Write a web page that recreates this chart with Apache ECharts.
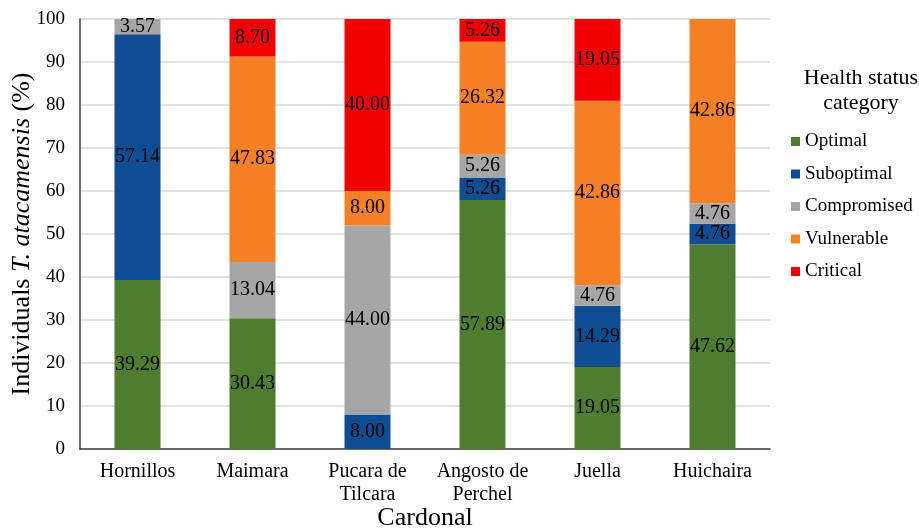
<!DOCTYPE html>
<html><head><meta charset="utf-8">
<script src="https://cdn.jsdelivr.net/npm/echarts@6/dist/echarts.min.js"></script>
<style>html,body{margin:0;padding:0;background:#fff}#c{width:919px;height:532px}</style>
</head><body><div id="c"></div>
<script>
const categories = ['Hornillos', 'Maimara', 'Pucara de\nTilcara', 'Angosto de\nPerchel', 'Juella', 'Huichaira'];
const seriesNames = ['Optimal', 'Suboptimal', 'Compromised', 'Vulnerable', 'Critical'];
const optimal = [39.29, 30.43, null, 57.89, 19.05, 47.62];
const suboptimal = [57.14, null, 8.00, 5.26, 14.29, 4.76];
const compromised = [3.57, 13.04, 44.00, 5.26, 4.76, 4.76];
const vulnerable = [null, 47.83, 8.00, 26.32, 42.86, 42.86];
const critical = [null, 8.70, 40.00, 5.26, 19.05, null];
const yTicks = [0, 10, 20, 30, 40, 50, 60, 70, 80, 90, 100];
const colors = ['#4F7D2F', '#0F4C91', '#A6A6A6', '#F58025', '#F20000'];
const values = [optimal, suboptimal, compromised, vulnerable, critical];

const font = 'Liberation Serif';
const chart = echarts.init(document.getElementById('c'));
chart.setOption({
  animation: false,
  color: colors,
  title: {
    text: 'Health status\ncategory',
    left: 856, top: 61, textAlign: 'center',
    textStyle: {fontFamily: font, fontSize: 22, fontWeight: 'normal', color: '#000', lineHeight: 25}
  },
  legend: {
    orient: 'vertical', left: 786, top: 127,
    itemWidth: 9, itemHeight: 9, itemGap: 13.5,
    icon: 'rect',
    textStyle: {fontFamily: font, fontSize: 19, color: '#000'},
    data: seriesNames
  },
  grid: {left: 80, right: 149, top: 19, bottom: 83, containLabel: false, outerBoundsMode: 'none'},
  xAxis: {
    type: 'category', data: categories,
    name: 'Cardonal', nameLocation: 'middle', nameGap: 56, nameMoveOverlap: false,
    nameTextStyle: {fontFamily: font, fontSize: 26, color: '#000'},
    axisLine: {lineStyle: {color: '#404040', width: 1.5}},
    axisTick: {show: false},
    axisLabel: {fontFamily: font, fontSize: 20, color: '#000', margin: 11, lineHeight: 23, interval: 0}
  },
  yAxis: {
    type: 'value', min: 0, max: 100, interval: 10,
    name: '{n|Individuals }{i|T. atacamensis}{n| (%)}',
    nameLocation: 'middle', nameGap: 45, nameMoveOverlap: false,
    nameTextStyle: {
      rich: {
        n: {fontFamily: font, fontSize: 26, color: '#000'},
        i: {fontFamily: font, fontSize: 26, color: '#000', fontStyle: 'italic'}
      }
    },
    axisLine: {show: true, lineStyle: {color: '#404040', width: 1.5}},
    axisTick: {show: false},
    splitLine: {lineStyle: {color: '#d9d9d9', width: 1.5}},
    axisLabel: {fontFamily: font, fontSize: 19, color: '#000', margin: 15,
      formatter: v => yTicks.includes(v) ? String(v) : ''}
  },
  series: seriesNames.map((n, i) => ({
    name: n, type: 'bar', stack: 'total', barWidth: 46,
    data: values[i],
    itemStyle: {color: colors[i]},
    label: {show: true, position: 'inside', fontFamily: font, fontSize: 20, color: '#000',
      formatter: p => p.value == null ? '' : Number(p.value).toFixed(2)}
  }))
});
</script></body></html>
